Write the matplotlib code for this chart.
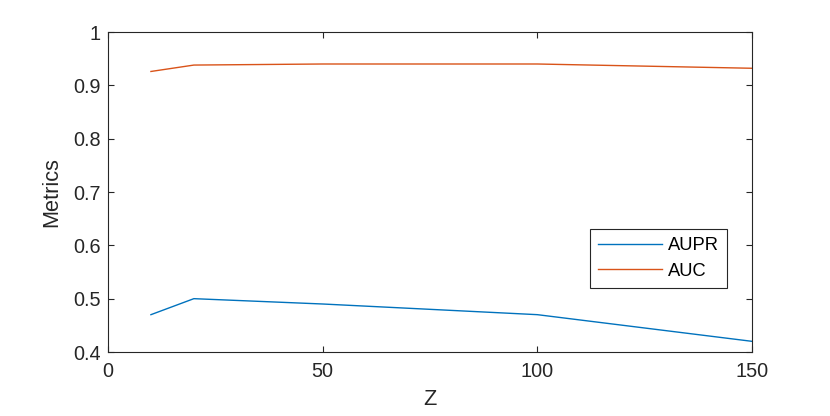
import matplotlib
matplotlib.use("Agg")
import matplotlib.pyplot as plt

z = [10, 20, 50, 100, 150]
aupr = [0.47, 0.50, 0.49, 0.47, 0.42]
auc = [0.926, 0.938, 0.940, 0.940, 0.932]
xticks = [0, 50, 100, 150]
yticks = [0.4, 0.5, 0.6, 0.7, 0.8, 0.9, 1.0]
yticklabels = ["0.4", "0.5", "0.6", "0.7", "0.8", "0.9", "1"]

plt.rcParams['font.family'] = ['Liberation Sans', 'DejaVu Sans']
axc = '#262626'

fig = plt.figure(figsize=(8.3, 4.16), dpi=100)
ax = fig.add_axes([108/830, (416-352)/416, (752-108)/830, (352-32)/416])
ax.plot(z, aupr, color='#0072BD', lw=1.0, label='AUPR')
ax.plot(z, auc, color='#D95319', lw=1.0, label='AUC')
ax.set_xlim(0, 150)
ax.set_ylim(0.4, 1.0)
ax.set_xticks(xticks)
ax.set_xticklabels([str(t) for t in xticks])
ax.set_yticks(yticks)
ax.set_yticklabels(yticklabels)
ax.tick_params(direction='in', top=True, right=True, length=4.5, width=0.8,
               colors=axc, labelsize=14.3, labelcolor=axc)
ax.tick_params(axis='x', pad=7)
ax.tick_params(axis='y', pad=5)
for s in ax.spines.values():
    s.set_color(axc)
    s.set_linewidth(0.8)
ax.set_xlabel('Z', fontsize=15.7, color=axc, labelpad=6)
ax.set_ylabel('Metrics', fontsize=15.7, color=axc, labelpad=8)
leg = ax.legend(loc='lower left', bbox_to_anchor=(0.748, 0.2), borderaxespad=0,
                fancybox=False, edgecolor=axc, framealpha=1, fontsize=13.2,
                handlelength=3.5, handletextpad=0.3, borderpad=0.45,
                labelspacing=0.45)
leg.get_frame().set_linewidth(0.8)
fig.savefig('out.png', dpi=100)
